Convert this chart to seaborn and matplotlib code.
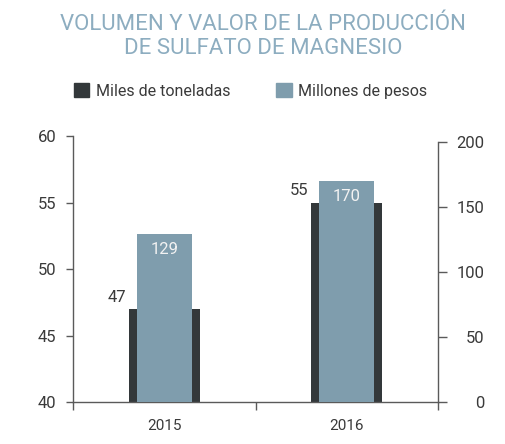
import matplotlib
matplotlib.use('Agg')
import matplotlib.pyplot as plt
import seaborn as sns
import pandas as pd

# data
years = ['2015', '2016']
miles_toneladas = [47, 55]
millones_pesos = [129, 170]

titulo = 'VOLUMEN Y VALOR DE LA PRODUCCIÓN\nDE SULFATO DE MAGNESIO'
serie_1 = 'Miles de toneladas'
serie_2 = 'Millones de pesos'

dark = '#33383a'
blue = '#7f9dad'
txt = '#3a3a3a'
axis_col = '#5a5a5a'

sns.set_theme(style='white')
plt.rcParams['font.family'] = ['Roboto', 'DejaVu Sans']

df = pd.DataFrame({'anio': years, 'ton': miles_toneladas, 'pesos': millones_pesos})

fig = plt.figure(figsize=(5.06, 4.44), dpi=100)
ax = fig.add_axes([0.144, 0.0946, 0.722, 0.599])
ax2 = ax.twinx()

sns.barplot(data=df, x='anio', y='ton', ax=ax, color=dark, width=0.39, saturation=1, linewidth=0)
sns.barplot(data=df, x='anio', y='pesos', ax=ax2, color=blue, width=0.30, saturation=1, linewidth=0)

for a in (ax, ax2):
    a.set_xlim(-0.5, 1.5)
    a.set_xlabel('')
    a.set_ylabel('')
    a.grid(False)
    for s in a.spines.values():
        s.set_visible(False)

ax.set_ylim(40, 60)
ax.set_yticks([40, 45, 50, 55, 60])
ax2.set_ylim(0, 204.6)
ax2.set_yticks([0, 50, 100, 150, 200])

ax.spines['left'].set_visible(True)
ax.spines['bottom'].set_visible(True)
ax2.spines['right'].set_visible(True)
ax2.spines['right'].set_bounds(0, 200)
for s in (ax.spines['left'], ax.spines['bottom'], ax2.spines['right']):
    s.set_color(axis_col)
    s.set_linewidth(1.0)

ax.tick_params(axis='y', left=True, length=5, width=1, color=axis_col, pad=7,
               labelsize=12, labelcolor=txt)
ax2.tick_params(axis='y', right=True, length=6.5, width=1, color=axis_col, pad=27,
                labelsize=12, labelcolor=txt)
for lab in ax2.get_yticklabels():
    lab.set_horizontalalignment('right')

ax.set_xticks([0, 1])
ax.set_xticklabels(years)
ax.set_xticks([-0.5, 0.5, 1.5], minor=True)
ax.tick_params(axis='x', which='major', length=0, pad=12, labelsize=11, labelcolor=txt)
ax.tick_params(axis='x', which='minor', bottom=True, length=6, width=1, color=axis_col)
ax2.tick_params(axis='x', bottom=False, labelbottom=False)

# value labels
for bar, v in zip(ax.patches, miles_toneladas):
    ax.annotate(str(v), (bar.get_x(), bar.get_height()), xytext=(-2, 3),
                textcoords='offset points', ha='right', va='bottom',
                fontsize=12, color=txt)
for bar, v in zip(ax2.patches, millones_pesos):
    ax2.annotate(str(v), (bar.get_x() + bar.get_width() / 2, bar.get_height()),
                 xytext=(0, -11), textcoords='offset points', ha='center', va='center',
                 fontsize=12, color='#f2f2f2')

fig.text(0.52, 0.968, titulo, ha='center', va='top', fontsize=16, color='#8dadc0',
         linespacing=1.15)

handles = [plt.Rectangle((0, 0), 1, 1, color=dark), plt.Rectangle((0, 0), 1, 1, color=blue)]
fig.legend(handles, [serie_1, serie_2], loc='center left', bbox_to_anchor=(0.118, 0.795),
           ncol=2, frameon=False, fontsize=11.5, handlelength=0.95, handleheight=0.95,
           handletextpad=0.4, columnspacing=2.9, labelcolor=txt)

fig.savefig('out.png', dpi=100)
